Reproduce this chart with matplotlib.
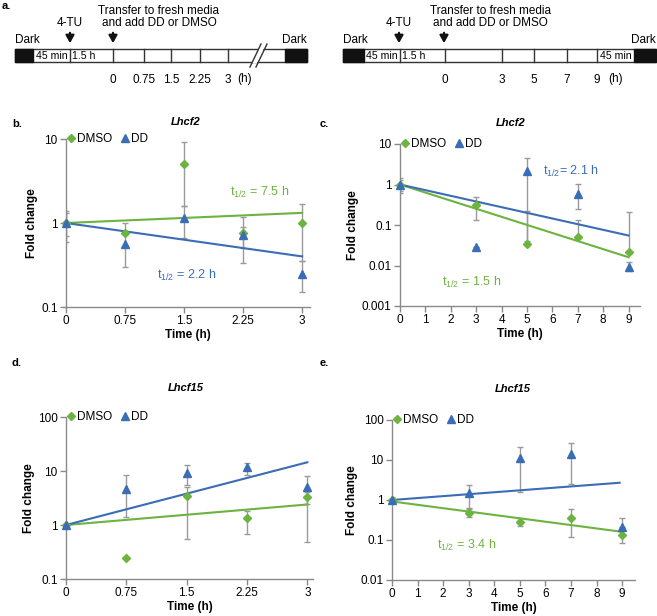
# decay plots of Lhcf2 / Lhcf15 transcripts after DD or DMSO treatment
import numpy as np
import matplotlib.pyplot as plt
from matplotlib.lines import Line2D

plt.rcParams['font.family'] = ['Liberation Sans', 'DejaVu Sans']
plt.rcParams['mathtext.fontset'] = 'custom'
plt.rcParams['mathtext.rm'] = 'Liberation Sans'
plt.rcParams['mathtext.it'] = 'Liberation Sans:italic'

GREEN = '#6cb33f'
BLUE = '#3a6db5'
GRAY = '#9a9a9a'
W, H = 657, 616
FS = 8.5   # general text size

# ---- data ----
t_short = [0, 0.75, 1.5, 2.25, 3]
t_long = [0, 3, 5, 7, 9]

# panel b: Lhcf2, short time course
b_dmso = [1.0, 0.76, 5.1, 0.75, 1.0]
b_dmso_lo = [0.6, 0.76, 1.6, 0.5, 0.35]
b_dmso_hi = [1.4, 1.0, 9.3, 1.18, 1.7]
b_dd = [1.0, 0.56, 1.15, 0.71, 0.25]
b_dd_lo = [0.7, 0.3, 0.66, 0.33, 0.15]
b_dd_hi = [1.3, 0.75, 1.6, 0.9, 0.35]
b_fit_dmso = [1.0, 1.32]
b_fit_dd = [1.0, 0.40]

# panel c: Lhcf2, long time course
c_dmso = [1.0, 0.32, 0.034, 0.052, 0.021]
c_dmso_lo = [0.62, 0.135, 0.034, 0.052, 0.021]
c_dmso_hi = [1.46, 0.49, 0.22, 0.135, 0.21]
c_dd = [1.0, 0.029, 2.2, 0.58, 0.0093]
c_dd_lo = [0.7, 0.029, 0.04, 0.25, 0.0074]
c_dd_hi = [1.3, 0.029, 4.6, 1.02, 0.012]
c_fit_dmso = [1.0, 0.016]
c_fit_dd = [1.0, 0.055]

# panel d: Lhcf15, short time course
d_dmso = [1.0, 0.24, 3.5, 1.36, 3.3]
d_dmso_lo = [1.0, 0.24, 0.55, 0.68, 0.49]
d_dmso_hi = [1.0, 0.24, 5.0, 1.8, 4.0]
d_dd = [1.0, 4.7, 9.0, 11.7, 5.1]
d_dd_lo = [1.0, 1.4, 5.6, 8.4, 2.4]
d_dd_hi = [1.0, 8.3, 12.8, 14.0, 8.0]
d_fit_dmso = [1.0, 2.4]
d_fit_dd = [1.0, 14.5]

# panel e: Lhcf15, long time course
e_dmso = [1.0, 0.48, 0.29, 0.35, 0.135]
e_dmso_lo = [0.85, 0.37, 0.23, 0.12, 0.084]
e_dmso_hi = [1.15, 0.62, 0.35, 0.6, 0.2]
e_dd = [1.0, 1.47, 11.2, 14.0, 0.21]
e_dd_lo = [0.85, 0.6, 1.6, 2.46, 0.21]
e_dd_hi = [1.2, 2.4, 20.8, 26.0, 0.35]
e_fit_dmso = [0.92, 0.16]
e_fit_dd = [1.0, 2.7]

# timeline labels for panel a
tl_left_ticks = ['0', '0.75', '1.5', '2.25', '3']
tl_right_ticks = ['0', '3', '5', '7', '9']


def px(x, y):
    return x / W, 1 - y / H


def rect(left, top, right, bottom):
    return [left / W, 1 - bottom / H, (right - left) / W, (bottom - top) / H]


fig = plt.figure(figsize=(W / 100, H / 100), dpi=100)

# ---- panel a: schematic timelines drawn in pixel space ----
ov = fig.add_axes([0, 0, 1, 1])
ov.set_xlim(0, W)
ov.set_ylim(H, 0)
ov.axis('off')


def timeline(x0, blk1, m45, h15, segs, blk2, x1, labels, hpos, arrow_tu, arrow_tr, txt_x, break_x=None, end45=None):
    top, bot = 49, 62
    box_fs = 7.6
    ov.add_patch(plt.Rectangle((x0, top), x1 - x0, bot - top, fc='white', ec='#333333', lw=1))
    ov.add_patch(plt.Rectangle((x0, top), blk1 - x0, bot - top, fc='#111111', ec='#111111', lw=1))
    ov.add_patch(plt.Rectangle((blk2, top), x1 - blk2, bot - top, fc='#111111', ec='#111111', lw=1))
    for xs in [m45, h15] + segs:
        ov.plot([xs, xs], [top, bot], color='#333333', lw=1)
    ov.text((blk1 + m45) / 2, 56, '45 min', ha='center', va='center', fontsize=box_fs)
    ov.text(m45 + 2, 56, '1.5 h', ha='left', va='center', fontsize=box_fs)
    if end45 is not None:
        ov.text((end45 + blk2) / 2, 56, '45 min', ha='center', va='center', fontsize=box_fs)
    for xs, lab in zip([h15] + segs[:len(labels) - 1], labels):
        ov.text(xs, 80, lab, ha='center', va='center', fontsize=FS)
    ov.text(hpos, 79, '(h)', ha='center', va='center', fontsize=FS)
    ov.text(x0, 46, 'Dark', ha='left', va='bottom', fontsize=FS)
    ov.text(x1, 46, 'Dark', ha='right', va='bottom', fontsize=FS)
    ov.text(arrow_tu, 29, '4-TU', ha='center', va='bottom', fontsize=FS)
    ov.text(txt_x, 17, 'Transfer to fresh media\nand add DD or DMSO', ha='center', va='center',
            fontsize=FS, linespacing=1.1)
    for ax_x in [arrow_tu, arrow_tr]:
        ov.annotate('', xy=(ax_x, 46), xytext=(ax_x, 30),
                    arrowprops=dict(arrowstyle='-|>,head_width=0.25,head_length=0.45', color='#111111', lw=1.6))
    if break_x is not None:
        ov.add_patch(plt.Polygon([(break_x - 3, bot + 1), (break_x + 4, top - 1),
                                  (break_x + 9, top - 1), (break_x + 2, bot + 1)],
                                 fc='white', ec='none', zorder=3))
        ov.plot([break_x - 5, break_x + 6], [bot + 5, top - 5], color='#333333', lw=1, zorder=4)
        ov.plot([break_x + 1, break_x + 12], [bot + 5, top - 5], color='#333333', lw=1, zorder=4)


timeline(15, 33, 70, 113, [144, 171, 200, 228], 285, 307, tl_left_ticks, 245,
         70, 113, 159, break_x=255)
timeline(343, 364, 400, 445, [502, 534, 567, 597], 634, 656, tl_right_ticks, 616,
         399, 444, 490, end45=597)
ov.text(*(2, 6), 'a.', fontsize=8, fontweight='bold', va='center')


def panel(r, t, dmso, dmso_lo, dmso_hi, dd, dd_lo, dd_hi, fit_dmso, fit_dd, fit_end,
          ylim, xlim, xticks, xticklabels):
    ax = fig.add_axes(rect(*r))
    ax.set_yscale('log')
    for vals, lo, hi in [(dmso, dmso_lo, dmso_hi), (dd, dd_lo, dd_hi)]:
        vals = np.array(vals)
        err = [vals - np.array(lo), np.array(hi) - vals]
        ax.errorbar(t, vals, yerr=err, fmt='none', ecolor=GRAY, elinewidth=1, capsize=2.5,
                    capthick=1, zorder=2)
    ax.plot([0, fit_end[0]], fit_dmso, color=GREEN, lw=1.5, zorder=3)
    ax.plot([0, fit_end[1]], fit_dd, color=BLUE, lw=1.5, zorder=3)
    ax.plot(t, dmso, 'D', color=GREEN, ms=4.3, ls='none', zorder=4, clip_on=False)
    ax.plot(t, dd, '^', color=BLUE, ms=5.3, ls='none', zorder=4, clip_on=False)
    ax.set_ylim(*ylim)
    ax.set_xlim(*xlim)
    ax.set_xticks(xticks)
    ax.set_xticklabels(xticklabels)
    ax.yaxis.set_minor_locator(plt.NullLocator())
    ax.yaxis.set_major_formatter(plt.FuncFormatter(lambda v, p: ('%g' % v)))
    for s in ['top', 'right']:
        ax.spines[s].set_visible(False)
    for s in ['left', 'bottom']:
        ax.spines[s].set_color('#8a8a8a')
        ax.spines[s].set_linewidth(1)
    ax.tick_params(axis='both', direction='out', length=4, width=1, color='#8a8a8a',
                   labelsize=FS, pad=2)
    ax.set_xlabel('Time (h)', fontsize=8.5, fontweight='bold', labelpad=1)
    ax.set_ylabel('Fold change', fontsize=8.5, fontweight='bold', labelpad=2)
    handles = [Line2D([], [], marker='D', color=GREEN, ms=4.3, ls='none'),
               Line2D([], [], marker='^', color=BLUE, ms=5.3, ls='none')]
    ax.legend(handles, ['DMSO', 'DD'], loc='center left', bbox_to_anchor=(0.0, 1.0), ncol=2,
              frameon=False, fontsize=FS, handlelength=0.8, handletextpad=0.1,
              columnspacing=0.7, borderaxespad=0, borderpad=0)
    return ax


short_ticks = t_short
short_labels = ['0', '0.75', '1.5', '2.25', '3']
long_ticks = list(range(10))

ax_b = panel((66, 139, 310, 307), t_short, b_dmso, b_dmso_lo, b_dmso_hi, b_dd, b_dd_lo, b_dd_hi,
             b_fit_dmso, b_fit_dd, (3, 3), (0.1, 10), (0, 3.1), short_ticks, short_labels)
ax_c = panel((400, 144, 640, 306), t_long, c_dmso, c_dmso_lo, c_dmso_hi, c_dd, c_dd_lo, c_dd_hi,
             c_fit_dmso, c_fit_dd, (9, 9), (0.001, 10), (0, 9.45), long_ticks,
             [str(v) for v in long_ticks])
ax_d = panel((66, 417, 313, 579), t_short, d_dmso, d_dmso_lo, d_dmso_hi, d_dd, d_dd_lo, d_dd_hi,
             d_fit_dmso, d_fit_dd, (3, 3), (0.1, 100), (0, 3.07), short_ticks, short_labels)
ax_e = panel((392, 420, 635, 580), t_long, e_dmso, e_dmso_lo, e_dmso_hi, e_dd, e_dd_lo, e_dd_hi,
             e_fit_dmso, e_fit_dd, (9, 8.9), (0.01, 100), (0, 9.5), long_ticks,
             [str(v) for v in long_ticks])

# half-life annotations
HL = 9
ax_b.text(2.08, 2.3, r'$\mathregular{t_{1/2}}$ = 7.5 h', color=GREEN, fontsize=HL, va='center')
ax_b.text(1.15, 0.24, r'$\mathregular{t_{1/2}}$ = 2.2 h', color=BLUE, fontsize=HL, va='center')
ax_c.text(5.65, 2.1, r'$\mathregular{t_{1/2}}$= 2.1 h', color=BLUE, fontsize=HL, va='center')
ax_c.text(1.66, 0.0038, r'$\mathregular{t_{1/2}}$ = 1.5 h', color=GREEN, fontsize=HL, va='center')
ax_e.text(1.76, 0.071, r'$\mathregular{t_{1/2}}$ = 3.4 h', color=GREEN, fontsize=HL, va='center')

# panel letters and gene titles
for (x, y), lab in [((12, 124), 'b.'), ((320, 124), 'c.'), ((12, 363), 'd.'), ((320, 363), 'e.')]:
    fig.text(*px(x, y), lab, fontsize=8, fontweight='bold', va='center')
for (x, y), lab in [((186, 122), 'Lhcf2'), ((511, 123), 'Lhcf2'), ((186, 388), 'Lhcf15'),
                    ((513, 389), 'Lhcf15')]:
    fig.text(*px(x, y), lab, fontsize=8, fontweight='bold', style='italic', ha='center', va='center')

plt.savefig('out.png', dpi=100)
